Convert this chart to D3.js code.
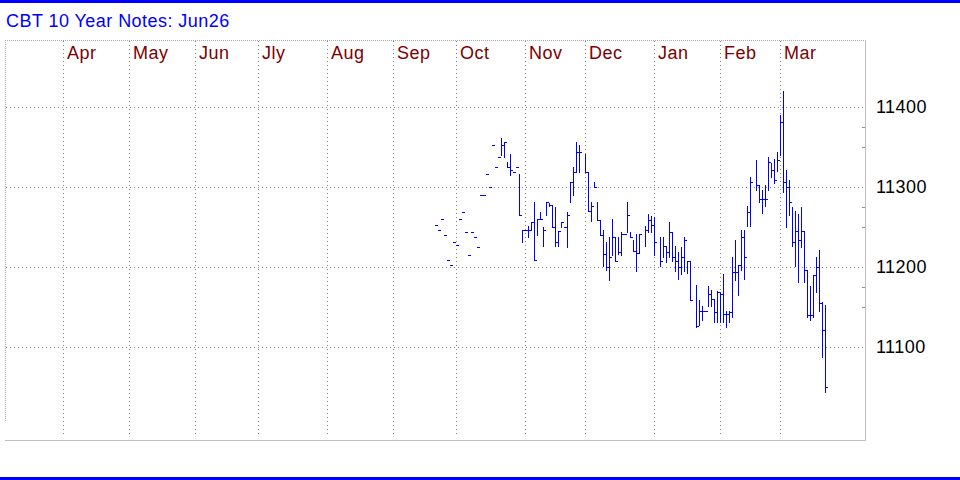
<!DOCTYPE html>
<html>
<head>
<meta charset="utf-8">
<script src="https://cdn.jsdelivr.net/npm/d3@7"></script>
<style>
  body { margin: 0; background: #fff; }
  svg { display: block; font-family: Arial, "Liberation Sans", sans-serif; }
  svg text { letter-spacing: 0.45px; }
</style>
</head>
<body>
<div id="chart"></div>
<script>
// chart text
const title = 'CBT 10 Year Notes: Jun26';
const monthNames = ['Apr', 'May', 'Jun', 'Jly', 'Aug', 'Sep', 'Oct', 'Nov', 'Dec', 'Jan', 'Feb', 'Mar'];
// weekday index (from 1 Apr) of the first day of each month
const monthStarts = [0, 22, 44, 65, 88, 110, 131, 154, 174, 197, 219, 239];
const priceTicks = [114, 113, 112, 111];
const minorTicks = [113.75, 113.5, 112.75, 112.5, 111.75, 111.5];

// daily bars (high / low / close), one per weekday starting at firstDay, null = no trading
const firstDay = 124;
const highs = [
  112.53, 112.47, 112.61, 112.41, 112.09, 112.03, 112.31, 112.28, 112.61, 112.69,
  112.44, 112.16, 112.44, 112.38, 112.25, 112.91, 112.91, 113.17, 113.00, 113.53,
  113.25, 113.38, 113.62, 113.57, 113.32, 113.42, 113.19, 113.25, 113.17, 112.47,
  112.47, 112.51, 112.56, 112.82, 112.60, 112.69, 112.50, 112.82, 112.80, 112.78,
  112.75, 112.45, 112.56, 112.50, 112.69, 113.06, 113.25, 113.56, 113.53, null,
  113.42, 113.19, 112.81, 113.06, 112.81, 112.59, 112.47, 112.32, 112.38, 112.61,
  112.38, 112.38, 112.44, 112.42, 112.82, 112.44, 112.34, 112.42, 112.42, null,
  112.52, 112.67, 112.64, 112.63, null, 112.38, 112.38, 112.27, 112.56, 112.44,
  112.27, 112.19, 112.25, 112.38, 112.08, 112.08, null, 111.78, 111.59, 111.52,
  111.46, 111.76, 111.72, 111.61, 111.70, 111.69, 111.92, 111.46, 111.45, 112.13,
  112.34, 112.03, 112.47, 112.47, 112.76, 113.13, null, 113.34, 113.03, 112.97,
  113.03, 113.38, 113.30, 113.35, 113.44, 113.91, 114.20, 113.22, 113.09, 112.75,
  112.70, 112.67, 112.75, 112.45, 111.97, 111.76, 111.90, 112.13, 112.22, 111.57,
  111.53
];
const lows = [
  112.53, 112.47, 112.61, 112.41, 112.09, 112.03, 112.31, 112.28, 112.61, 112.69,
  112.44, 112.16, 112.44, 112.38, 112.25, 112.91, 112.91, 113.17, 113.00, 113.53,
  113.25, 113.38, 113.41, 113.38, 113.25, 113.16, 113.19, 113.25, 112.66, 112.31,
  112.47, 112.38, 112.47, 112.09, 112.41, 112.61, 112.27, 112.66, 112.77, 112.50,
  112.27, 112.26, 112.50, 112.50, 112.25, 112.81, 112.90, 113.19, 113.19, null,
  113.19, 112.70, 112.58, 113.00, 112.59, 112.41, 112.01, 111.97, 111.84, 112.15,
  112.08, 112.17, 112.15, 112.42, 112.44, 112.38, 112.21, 111.96, 112.18, null,
  112.27, 112.44, 112.44, 112.15, null, 112.02, 112.13, 112.06, 112.13, 112.08,
  111.96, 111.85, 111.92, 111.96, 111.93, 111.59, null, 111.25, 111.28, 111.34,
  111.46, 111.51, 111.51, 111.31, 111.31, 111.31, 111.31, 111.25, 111.31, 111.38,
  111.84, 111.66, 111.97, 111.86, 112.52, 112.52, null, 112.97, 112.81, 112.68,
  112.77, 112.97, 113.13, 113.05, 113.20, 113.40, 112.94, 112.50, 112.65, 112.27,
  112.02, 111.81, 112.25, 111.81, 111.38, 111.34, 111.38, 111.69, 111.45, 110.88,
  110.44
];
const closes = [
  112.53, 112.47, 112.61, 112.41, 112.09, 112.03, 112.31, 112.28, 112.61, 112.69,
  112.44, 112.16, 112.44, 112.38, 112.25, 112.91, 112.91, 113.17, 113.00, 113.53,
  113.25, 113.38, 113.53, 113.56, 113.25, 113.22, 113.19, 113.25, 112.66, 112.47,
  112.47, 112.47, 112.56, 112.09, 112.60, 112.61, 112.47, 112.82, 112.78, 112.50,
  112.31, 112.45, 112.56, 112.50, 112.66, 113.06, 113.19, 113.44, 113.44, null,
  113.19, 112.70, 112.77, 113.00, 112.59, 112.41, 112.17, 112.00, 112.13, 112.38,
  112.08, 112.19, 112.42, 112.42, 112.66, 112.38, 112.21, 112.18, 112.42, null,
  112.47, 112.59, 112.53, 112.31, null, 112.08, 112.27, 112.19, 112.44, 112.13,
  112.08, 112.00, 112.13, 112.34, 112.08, 111.59, null, 111.26, 111.46, 111.46,
  111.46, 111.67, 111.61, 111.44, 111.69, 111.67, 111.42, 111.42, 111.44, 111.94,
  111.94, 112.03, 112.38, 112.13, 112.69, 113.06, null, 113.03, 112.86, 112.86,
  112.86, 113.32, 113.22, 113.09, 113.34, 113.81, 113.06, 113.00, 112.81, 112.32,
  112.45, 112.34, 112.45, 111.97, 111.41, 111.41, 111.90, 112.00, 111.55, 111.22,
  110.50
];

class BarChart {
    constructor(_config) {
        this.config = {
            parentElement: _config.parentElement,
            containerWidth: _config.containerWidth || 960,
            containerHeight: _config.containerHeight || 480,
            plot: _config.plot || { left: 5, top: 40, right: 865, bottom: 440 }
        };
        this.initVis();
    }

    initVis() {
        let vis = this;
        const p = vis.config.plot;

        vis.svg = d3.select(vis.config.parentElement).append('svg')
            .attr('width', vis.config.containerWidth)
            .attr('height', vis.config.containerHeight);

        // one weekday = 3px
        vis.xScale = d3.scaleLinear().domain([0, 267]).range([63, 864]);
        vis.yScale = d3.scaleLinear().domain([111, 114]).range([347.3, 107.3]);

        vis.px = v => Math.round(v) + 0.5;

        // blue rules top and bottom
        vis.svg.append('rect').attr('x', 0).attr('y', 0)
            .attr('width', vis.config.containerWidth).attr('height', 3).attr('fill', '#0000ff');
        vis.svg.append('rect').attr('x', 0).attr('y', 477)
            .attr('width', vis.config.containerWidth).attr('height', 3).attr('fill', '#0000ff');

        vis.svg.append('text')
            .attr('x', 6).attr('y', 27)
            .attr('fill', '#0000ff')
            .style('font-size', '18px')
            .text(title);

        // light dotted frame on top and left
        vis.svg.append('line')
            .attr('x1', p.left).attr('x2', p.right)
            .attr('y1', p.top + 0.5).attr('y2', p.top + 0.5)
            .attr('stroke', '#a8a8a8').attr('stroke-dasharray', '1,1');
        vis.svg.append('line')
            .attr('x1', p.left + 0.5).attr('x2', p.left + 0.5)
            .attr('y1', p.top).attr('y2', 421)
            .attr('stroke', '#a8a8a8').attr('stroke-dasharray', '1,1');

        vis.gridG = vis.svg.append('g').attr('class', 'grid');
        vis.axisG = vis.svg.append('g').attr('class', 'axis');
        vis.barG = vis.svg.append('g').attr('class', 'bars');
    }

    updateVis() {
        let vis = this;
        vis.bars = closes.map((c, i) => ({
            day: firstDay + i,
            high: highs[i],
            low: lows[i],
            close: c
        })).filter(d => d.close !== null);
        vis.renderVis();
    }

    renderVis() {
        let vis = this;
        const p = vis.config.plot;

        // month grid + labels
        vis.gridG.selectAll('.month-line')
            .data(monthStarts)
            .join('line')
            .attr('class', 'month-line')
            .attr('x1', d => vis.px(vis.xScale(d)))
            .attr('x2', d => vis.px(vis.xScale(d)))
            .attr('y1', p.top + 1).attr('y2', 437)
            .attr('stroke', '#808080')
            .attr('stroke-dasharray', '1,3');

        vis.gridG.selectAll('.month-label')
            .data(monthStarts)
            .join('text')
            .attr('class', 'month-label')
            .attr('x', d => vis.xScale(d) + 4)
            .attr('y', 59)
            .attr('fill', '#800000')
            .style('font-size', '18px')
            .text((d, i) => monthNames[i]);

        // price grid
        vis.gridG.selectAll('.price-line')
            .data(priceTicks)
            .join('line')
            .attr('class', 'price-line')
            .attr('x1', p.left + 1).attr('x2', p.right - 2)
            .attr('y1', d => vis.px(vis.yScale(d)))
            .attr('y2', d => vis.px(vis.yScale(d)))
            .attr('stroke', '#808080')
            .attr('stroke-dasharray', '1,3');

        // right axis and bottom line
        vis.axisG.append('line')
            .attr('x1', p.right + 0.5).attr('x2', p.right + 0.5)
            .attr('y1', p.top).attr('y2', p.bottom + 1)
            .attr('stroke', '#c0c0c0');
        vis.axisG.append('line')
            .attr('x1', p.left).attr('x2', p.right + 1)
            .attr('y1', p.bottom + 0.5).attr('y2', p.bottom + 0.5)
            .attr('stroke', '#c0c0c0');

        vis.axisG.selectAll('.minor-tick')
            .data(minorTicks)
            .join('line')
            .attr('class', 'minor-tick')
            .attr('x1', p.right - 3).attr('x2', p.right)
            .attr('y1', d => vis.px(vis.yScale(d)))
            .attr('y2', d => vis.px(vis.yScale(d)))
            .attr('stroke', '#909090');

        vis.axisG.selectAll('.price-label')
            .data(priceTicks)
            .join('text')
            .attr('class', 'price-label')
            .attr('x', 876)
            .attr('y', d => vis.yScale(d) + 6)
            .attr('fill', '#000')
            .style('font-size', '18px')
            .text(d => d3.format('d')(d * 100));

        // HLC bars: vertical high-low, close tick to the right
        vis.barG.selectAll('.bar')
            .data(vis.bars)
            .join('path')
            .attr('class', 'bar')
            .attr('fill', 'none')
            .attr('stroke', '#0000ff')
            .attr('stroke-width', 1)
            .attr('d', d => {
                const x = Math.round(vis.xScale(d.day)) + 0.5;
                const yh = Math.round(vis.yScale(d.high));
                const yl = Math.round(vis.yScale(d.low));
                const yc = Math.round(vis.yScale(d.close)) + 0.5;
                let path = `M${x - 0.5},${yc}H${x + 2.5}`;
                if (yl > yh) path += `M${x},${yh}V${yl + 1}`;
                return path;
            });
    }
}

const chart = new BarChart({ parentElement: '#chart' });
chart.updateVis();
</script>
</body>
</html>
